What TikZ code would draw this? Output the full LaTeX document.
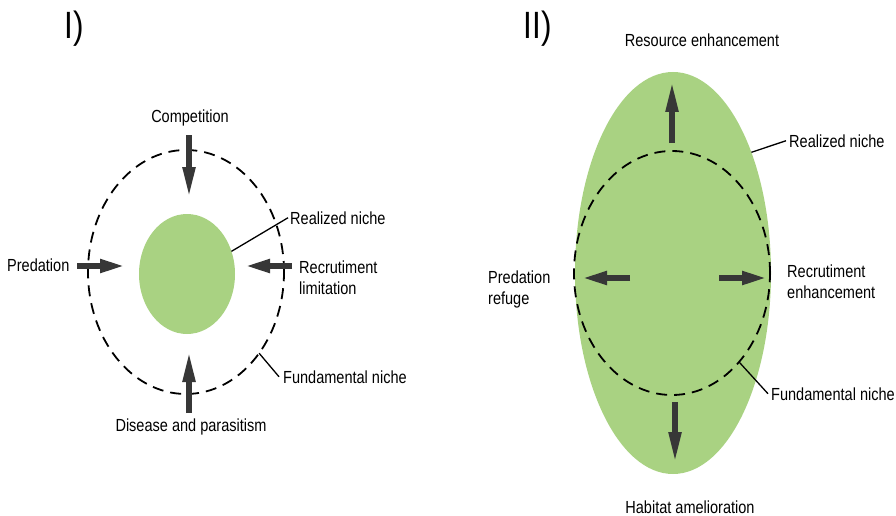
\documentclass[tikz,border=0pt]{standalone}
\usepackage{fontspec}
\setmainfont[FakeStretch=0.83]{Liberation Sans}
\usetikzlibrary{arrows.meta,shapes.geometric}
\definecolor{nichegreen}{RGB}{169,210,130}
\definecolor{arrowgray}{RGB}{55,55,55}
\begin{document}
\begin{tikzpicture}[x=1pt,y=-1pt,
  lbl/.style={font=\fontsize{17.5}{21}\selectfont, inner sep=0pt, align=left},
  panel/.style={font=\fontsize{38}{40}\selectfont, inner sep=0pt, anchor=base west},
  harrow/.style={draw=arrowgray, line width=5.2pt, -{Triangle[length=24pt,width=13pt]}},
  varrow/.style={draw=arrowgray, line width=5.2pt, -{Triangle[length=30pt,width=12pt]}},
  fundamental/.style={ellipse, draw=black, line width=1.8pt, dash pattern=on 11pt off 7pt, inner sep=0pt, outer sep=0pt},
  realized/.style={ellipse, fill=nichegreen, draw=none, inner sep=0pt, outer sep=0pt},
  leader/.style={draw=black, line width=1.3pt}
]
\useasboundingbox (0,0) rectangle (896,516);

% ---------- Panel I ----------
\node[panel] (p1) at (64.5,39) {I)};
\node[realized, minimum width=96pt, minimum height=120pt] (g1) at (187,274) {};
\node[fundamental, minimum width=196pt, minimum height=244pt] (f1) at (186,272) {};

\coordinate (c1s) at (189,135); \coordinate (c1e) at (189,197);
\coordinate (p1s) at (77,266);  \coordinate (p1e) at (124,266);
\coordinate (r1s) at (292,266); \coordinate (r1e) at (246,266);
\coordinate (d1s) at (189,413); \coordinate (d1e) at (189,352);
\draw[varrow] (c1s) -- (c1e);
\draw[harrow] (p1s) -- (p1e);
\draw[harrow] (r1s) -- (r1e);
\draw[varrow] (d1s) -- (d1e);

\node[lbl, anchor=base] (comp) at (190,123) {Competition};
\node[lbl, anchor=base west] (pred1) at (7,271) {Predation};
\node[lbl, anchor=north west] (recl) at (299,260.4) {Recrutiment\\limitation};
\node[lbl, anchor=base] (dis) at (191,431) {Disease and parasitism};
\node[lbl, anchor=base west] (rn1) at (290,224) {Realized niche};
\node[lbl, anchor=base west] (fn1) at (283,383) {Fundamental niche};
\draw[leader] (g1.27.6) -- ([xshift=-2pt]rn1.west);
\draw[leader] (f1.-48) -- ([xshift=-4pt]fn1.west);

% ---------- Panel II ----------
\node[panel] (p2) at (523.5,39) {II)};
\node[realized, minimum width=196pt, minimum height=402pt] (g2) at (673,273) {};
\node[fundamental, minimum width=196pt, minimum height=244pt] (f2) at (672,273) {};

\coordinate (u2s) at (672,143); \coordinate (u2e) at (672,82);
\coordinate (d2s) at (675,402); \coordinate (d2e) at (675,462);
\coordinate (l2s) at (630,278); \coordinate (l2e) at (583,278);
\coordinate (r2s) at (719,278); \coordinate (r2e) at (766,278);
\draw[varrow] (u2s) -- (u2e);
\draw[varrow] (d2s) -- (d2e);
\draw[harrow] (l2s) -- (l2e);
\draw[harrow] (r2s) -- (r2e);

\node[lbl, anchor=base] (res) at (702,47) {Resource enhancement};
\node[lbl, anchor=north west] (pref) at (488,270.4) {Predation\\refuge};
\node[lbl, anchor=north west] (rece) at (787,264.4) {Recrutiment\\enhancement};
\node[lbl, anchor=base] (hab) at (690,513) {Habitat amelioration};
\node[lbl, anchor=base west] (rn2) at (789,147) {Realized niche};
\node[lbl, anchor=base west] (fn2) at (771,400) {Fundamental niche};
\draw[leader] (g2.57.3) -- ([xshift=-3pt]rn2.west);
\draw[leader] (f2.-53.7) -- ([xshift=-3pt]fn2.west);
\end{tikzpicture}
\end{document}
